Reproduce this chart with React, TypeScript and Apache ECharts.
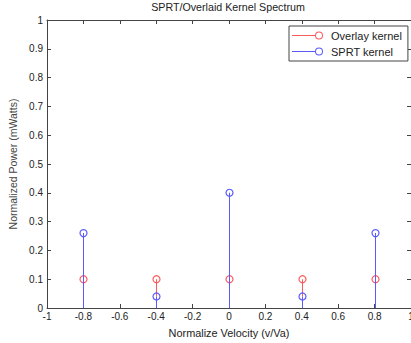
import React, { useEffect, useRef } from "react";
import * as echarts from "echarts";

const positions = [-0.8, -0.4, 0, 0.4, 0.8];
const overlayValues = [0.1, 0.1, 0.1, 0.1, 0.1];
const sprtValues = [0.26, 0.04, 0.4, 0.04, 0.26];
const seriesNames = ["Overlay kernel", "SPRT kernel"];
const colors = ["#ff5a5a", "#5a5aff"];

const FONT = "Liberation Sans, Arial, sans-serif";
const ICON =
  "path://M0,3.5L23,3.5L23,4.5L0,4.5Z M31,4A4,4,0,1,0,23,4A4,4,0,1,0,31,4Z M30,4A3,3,0,1,1,24,4A3,3,0,1,1,30,4Z";

// coverBelow: values of the series drawn on top, whose stems hide the lower part of this one
function stemSeries(name: string, values: number[], color: string, coverBelow: number[] | null) {
  return {
    type: "custom",
    name,
    data: positions.map((x, i) => [x, values[i]]),
    itemStyle: { color },
    clip: false,
    renderItem: (params: any, api: any) => {
      const x = api.value(0);
      const y = api.value(1);
      const base = coverBelow ? Math.max(0, coverBelow[params.dataIndex]) : 0;
      const p0 = api.coord([x, Math.min(base, y)]);
      const p1 = api.coord([x, y]);
      const px = Math.round(p0[0]);
      const children: any[] = [];
      if (p0[1] - p1[1] > 0.5) {
        children.push({
          type: "rect",
          shape: { x: px, y: p1[1], width: 1, height: p0[1] - p1[1] },
          style: { fill: color, stroke: null },
        });
      }
      children.push({
        type: "circle",
        shape: { cx: px + 0.5, cy: p1[1], r: 3.5 },
        style: { fill: "none", stroke: color, lineWidth: 1.2 },
      });
      return { type: "group", children };
    },
  };
}

export default function App() {
  const ref = useRef<HTMLDivElement>(null);
  useEffect(() => {
    const chart = echarts.init(ref.current!, null, { renderer: "svg" });
    const axisLine = { show: true, onZero: false, lineStyle: { color: "#444", width: 1 } };
    const tick = { show: true, inside: true, length: 4, lineStyle: { color: "#444" } };
    chart.setOption({
      animation: false,
      backgroundColor: "#fff",
      textStyle: { fontFamily: FONT },
      title: {
        text: "SPRT/Overlaid Kernel Spectrum",
        left: 228,
        textAlign: "center",
        top: 1,
        padding: 0,
        textStyle: { fontSize: 10.7, fontWeight: "normal", color: "#222", fontFamily: FONT },
      },
      legend: {
        orient: "vertical",
        left: 289,
        top: 26,
        padding: [4, 6, 4, 3],
        itemGap: 5,
        itemWidth: 31,
        itemHeight: 8,
        backgroundColor: "#fff",
        borderColor: "#444",
        borderWidth: 1,
        borderRadius: 0,
        textStyle: { fontSize: 11, color: "#222", fontFamily: FONT, padding: [0, 0, 0, 3] },
        data: seriesNames.map((n, i) => ({
          name: n,
          icon: ICON,
          itemStyle: { color: colors[i], borderWidth: 0 },
        })),
      },
      grid: { left: 47, right: 0, top: 20, bottom: 35, containLabel: false, outerBoundsMode: "none" },
      xAxis: [
        {
          type: "value",
          min: -1,
          max: 1,
          interval: 0.2,
          name: "Normalize Velocity (v/Va)",
          nameLocation: "middle",
          nameGap: 19,
          nameTextStyle: { fontSize: 10.9, color: "#222", fontFamily: FONT },
          axisLine,
          axisTick: tick,
          axisLabel: { fontSize: 10, color: "#222", margin: 3, fontFamily: FONT },
          splitLine: { show: false },
        },
        {
          type: "value",
          position: "top",
          min: -1,
          max: 1,
          interval: 0.2,
          axisLine,
          axisTick: tick,
          axisLabel: { show: false },
          splitLine: { show: false },
        },
      ],
      yAxis: [
        {
          type: "value",
          min: 0,
          max: 1,
          interval: 0.1,
          name: "Normalized Power (mWatts)",
          nameLocation: "middle",
          nameGap: 25,
          nameRotate: 90,
          nameTextStyle: { fontSize: 10.5, color: "#444", fontFamily: FONT },
          axisLine,
          axisTick: tick,
          axisLabel: { fontSize: 10, color: "#222", margin: 4, fontFamily: FONT },
          splitLine: { show: false },
        },
        {
          type: "value",
          position: "right",
          min: 0,
          max: 1,
          interval: 0.1,
          axisLine,
          axisTick: tick,
          axisLabel: { show: false },
          splitLine: { show: false },
        },
      ],
      series: [
        stemSeries(seriesNames[0], overlayValues, colors[0], sprtValues),
        stemSeries(seriesNames[1], sprtValues, colors[1], null),
      ],
    });
    return () => chart.dispose();
  }, []);
  return (
    <div
      ref={ref}
      style={{ position: "absolute", left: 0, top: 0, width: 411, height: 343 }}
    />
  );
}
